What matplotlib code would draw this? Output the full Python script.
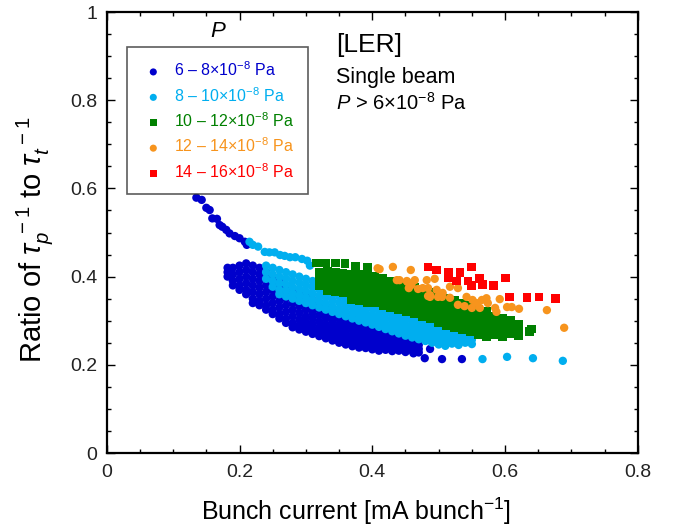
import matplotlib
matplotlib.use('Agg')
import matplotlib.pyplot as plt
from matplotlib.ticker import MultipleLocator

plt.rcParams['font.family'] = ['Liberation Sans', 'DejaVu Sans']
plt.rcParams['mathtext.fontset'] = 'custom'
plt.rcParams['mathtext.rm'] = 'Liberation Sans'
plt.rcParams['mathtext.it'] = 'Liberation Sans:italic'
plt.rcParams['mathtext.bf'] = 'Liberation Sans:bold'

# ---- data (bunch current, ratio) ----
# dense bands are kept as columns: (x, [y values])
p68_tail = [(0.135, 0.579), (0.143, 0.574), (0.150, 0.556), (0.155, 0.551), (0.159, 0.532),
            (0.166, 0.531), (0.170, 0.517), (0.174, 0.513), (0.180, 0.506), (0.185, 0.498),
            (0.193, 0.492), (0.200, 0.487), (0.208, 0.479), (0.211, 0.472),
            (0.479, 0.215), (0.487, 0.236), (0.505, 0.213), (0.535, 0.213), (0.462, 0.226)]
p68_cols = [
    (0.182, [0.42, 0.41, 0.40]),
    (0.19, [0.42, 0.405, 0.39, 0.38]),
    (0.20, [0.425, 0.41, 0.395, 0.38, 0.37]),
    (0.21, [0.43, 0.415, 0.40, 0.385, 0.37, 0.36]),
    (0.22, [0.425, 0.41, 0.395, 0.38, 0.365, 0.35, 0.34]),
    (0.23, [0.42, 0.405, 0.39, 0.375, 0.36, 0.345, 0.335]),
    (0.24, [0.41, 0.395, 0.38, 0.365, 0.35, 0.335, 0.325]),
    (0.25, [0.40, 0.385, 0.37, 0.355, 0.34, 0.325, 0.315]),
    (0.26, [0.39, 0.375, 0.36, 0.345, 0.33, 0.315, 0.305]),
    (0.27, [0.38, 0.365, 0.35, 0.335, 0.32, 0.305, 0.295]),
    (0.28, [0.37, 0.355, 0.34, 0.325, 0.31, 0.295, 0.285]),
    (0.29, [0.362, 0.348, 0.333, 0.318, 0.303, 0.29, 0.28]),
    (0.30, [0.355, 0.34, 0.325, 0.31, 0.297, 0.285, 0.275]),
    (0.31, [0.348, 0.333, 0.318, 0.305, 0.292, 0.28, 0.27]),
    (0.32, [0.34, 0.326, 0.312, 0.298, 0.285, 0.273, 0.265]),
    (0.33, [0.333, 0.32, 0.306, 0.292, 0.28, 0.268, 0.26]),
    (0.34, [0.326, 0.312, 0.299, 0.286, 0.274, 0.262, 0.255]),
    (0.35, [0.318, 0.305, 0.292, 0.28, 0.268, 0.257, 0.25]),
    (0.36, [0.31, 0.298, 0.286, 0.274, 0.262, 0.252, 0.246]),
    (0.37, [0.303, 0.291, 0.279, 0.267, 0.256, 0.247, 0.242]),
    (0.38, [0.296, 0.284, 0.272, 0.261, 0.25, 0.243, 0.239]),
    (0.39, [0.29, 0.278, 0.266, 0.255, 0.246, 0.238]),
    (0.40, [0.284, 0.272, 0.26, 0.25, 0.241, 0.235]),
    (0.41, [0.278, 0.266, 0.255, 0.245, 0.237, 0.232]),
    (0.42, [0.272, 0.26, 0.25, 0.241, 0.234]),
    (0.43, [0.266, 0.255, 0.245, 0.237, 0.231]),
    (0.44, [0.26, 0.25, 0.24, 0.232]),
    (0.45, [0.255, 0.245, 0.236, 0.229]),
    (0.46, [0.25, 0.24, 0.232]),
    (0.47, [0.245, 0.236, 0.228]),
]

p810_pts = [(0.215, 0.479), (0.22, 0.472), (0.228, 0.468), (0.238, 0.456), (0.245, 0.455),
            (0.253, 0.455), (0.261, 0.449), (0.268, 0.447), (0.276, 0.444), (0.284, 0.444),
            (0.294, 0.440), (0.302, 0.436), (0.306, 0.425),
            (0.566, 0.213), (0.603, 0.218), (0.642, 0.215), (0.687, 0.209)]
p810_cols = [
    (0.24, [0.425, 0.41, 0.395]),
    (0.25, [0.42, 0.405, 0.39, 0.377]),
    (0.26, [0.415, 0.40, 0.385, 0.37, 0.36]),
    (0.27, [0.41, 0.396, 0.382, 0.368, 0.355]),
    (0.28, [0.405, 0.39, 0.376, 0.362, 0.35]),
    (0.29, [0.40, 0.386, 0.372, 0.358, 0.345]),
    (0.30, [0.395, 0.381, 0.367, 0.353, 0.34]),
    (0.31, [0.39, 0.376, 0.362, 0.348, 0.335]),
    (0.32, [0.385, 0.371, 0.357, 0.343, 0.33]),
    (0.33, [0.38, 0.366, 0.352, 0.338, 0.325]),
    (0.34, [0.374, 0.36, 0.346, 0.332, 0.32]),
    (0.35, [0.368, 0.355, 0.341, 0.327, 0.315]),
    (0.36, [0.362, 0.349, 0.335, 0.322, 0.31]),
    (0.37, [0.356, 0.343, 0.33, 0.317, 0.305]),
    (0.38, [0.35, 0.337, 0.324, 0.312, 0.30]),
    (0.39, [0.345, 0.332, 0.319, 0.307, 0.296]),
    (0.40, [0.34, 0.327, 0.314, 0.302, 0.291]),
    (0.41, [0.335, 0.322, 0.309, 0.297, 0.286]),
    (0.42, [0.33, 0.317, 0.304, 0.292, 0.281]),
    (0.43, [0.325, 0.312, 0.30, 0.288, 0.276]),
    (0.44, [0.32, 0.307, 0.295, 0.283, 0.271]),
    (0.45, [0.315, 0.302, 0.29, 0.278, 0.266]),
    (0.46, [0.31, 0.298, 0.286, 0.274, 0.262]),
    (0.47, [0.305, 0.293, 0.281, 0.269, 0.258]),
    (0.48, [0.30, 0.288, 0.276, 0.264, 0.254]),
    (0.49, [0.295, 0.283, 0.271, 0.26, 0.25]),
    (0.50, [0.29, 0.278, 0.267, 0.256, 0.246]),
    (0.51, [0.285, 0.274, 0.263, 0.252, 0.243]),
    (0.52, [0.28, 0.27, 0.259, 0.248]),
    (0.53, [0.276, 0.265, 0.254, 0.245]),
    (0.54, [0.272, 0.261, 0.25]),
    (0.55, [0.268, 0.257, 0.247]),
]

p1012_pts = [(0.316, 0.431), (0.33, 0.431), (0.344, 0.431), (0.359, 0.429), (0.375, 0.424),
             (0.393, 0.42), (0.615, 0.288), (0.640, 0.281), (0.637, 0.275)]
p1012_cols = [
    (0.32, [0.41, 0.395, 0.38]),
    (0.332, [0.412, 0.397, 0.382, 0.368]),
    (0.344, [0.41, 0.395, 0.38, 0.365]),
    (0.356, [0.408, 0.393, 0.378, 0.363]),
    (0.368, [0.405, 0.39, 0.375, 0.36, 0.348]),
    (0.38, [0.405, 0.39, 0.375, 0.36, 0.345]),
    (0.392, [0.40, 0.385, 0.37, 0.355, 0.34]),
    (0.404, [0.40, 0.385, 0.37, 0.355, 0.34]),
    (0.416, [0.395, 0.38, 0.365, 0.35, 0.335]),
    (0.428, [0.39, 0.375, 0.36, 0.345, 0.33]),
    (0.44, [0.385, 0.37, 0.355, 0.34, 0.325]),
    (0.452, [0.38, 0.365, 0.35, 0.335, 0.32]),
    (0.464, [0.375, 0.36, 0.345, 0.33, 0.315]),
    (0.476, [0.37, 0.355, 0.34, 0.325, 0.31]),
    (0.488, [0.365, 0.35, 0.335, 0.32, 0.305]),
    (0.50, [0.355, 0.34, 0.325, 0.31, 0.295]),
    (0.512, [0.35, 0.335, 0.32, 0.305, 0.29]),
    (0.524, [0.345, 0.33, 0.315, 0.30, 0.285]),
    (0.536, [0.34, 0.325, 0.31, 0.295, 0.28]),
    (0.548, [0.335, 0.32, 0.305, 0.29, 0.275]),
    (0.56, [0.325, 0.31, 0.295, 0.28, 0.268]),
    (0.572, [0.32, 0.305, 0.29, 0.275, 0.265]),
    (0.584, [0.31, 0.295, 0.28, 0.268]),
    (0.596, [0.305, 0.29, 0.275, 0.265]),
    (0.608, [0.30, 0.285, 0.27]),
    (0.62, [0.292, 0.278, 0.266]),
]

p1214_pts = [(0.408, 0.419), (0.411, 0.417), (0.431, 0.422), (0.437, 0.392), (0.441, 0.392),
             (0.453, 0.388), (0.458, 0.415), (0.452, 0.39), (0.459, 0.381), (0.464, 0.392),
             (0.469, 0.372), (0.455, 0.374), (0.476, 0.374), (0.482, 0.392), (0.484, 0.374),
             (0.484, 0.356), (0.487, 0.354), (0.494, 0.395), (0.497, 0.37), (0.499, 0.354),
             (0.506, 0.363), (0.505, 0.354), (0.517, 0.377), (0.517, 0.352), (0.529, 0.374),
             (0.529, 0.336), (0.539, 0.333), (0.542, 0.354), (0.551, 0.347), (0.557, 0.340),
             (0.565, 0.347), (0.572, 0.351), (0.574, 0.34), (0.562, 0.329), (0.55, 0.329),
             (0.585, 0.329), (0.587, 0.32), (0.592, 0.349), (0.603, 0.331), (0.61, 0.331),
             (0.621, 0.327), (0.663, 0.324), (0.689, 0.284), (0.487, 0.358)]

p1416_pts = [(0.484, 0.422), (0.497, 0.415), (0.515, 0.41), (0.532, 0.41), (0.55, 0.422),
             (0.514, 0.397), (0.527, 0.39), (0.544, 0.39), (0.562, 0.395), (0.566, 0.383),
             (0.55, 0.379), (0.582, 0.379), (0.601, 0.397), (0.607, 0.354), (0.633, 0.352),
             (0.651, 0.354), (0.676, 0.351)]

labels = [r'6 – 8$\times$10$^{-8}$ Pa', r'8 – 10$\times$10$^{-8}$ Pa',
          r'10 – 12$\times$10$^{-8}$ Pa', r'12 – 14$\times$10$^{-8}$ Pa',
          r'14 – 16$\times$10$^{-8}$ Pa']
colors = ['#0000cc', '#00aeef', '#008000', '#f7941d', '#ff0000']
markers = ['o', 'o', 's', 'o', 's']


def expand(cols, pts):
    xs, ys = [], []
    for x, col in cols:
        for y in col:
            xs.append(x)
            ys.append(y)
    for x, y in pts:
        xs.append(x)
        ys.append(y)
    return xs, ys


series = [expand(p68_cols, p68_tail), expand(p810_cols, p810_pts),
          expand(p1012_cols, p1012_pts), expand([], p1214_pts), expand([], p1416_pts)]

fig = plt.figure(figsize=(6.8, 5.27), dpi=100)
ax = fig.add_axes([0.157, 0.1404, 0.781, 0.8368])

for (xs, ys), c, m, lab in zip(series, colors, markers, labels):
    ax.scatter(xs, ys, s=36 if m == 'o' else 40, marker=m, color=c, edgecolors='none', label=lab)

ax.set_xlim(0, 0.8)
ax.set_ylim(0, 1)
ax.set_xticks([0, 0.2, 0.4, 0.6, 0.8])
ax.set_xticklabels(['0', '0.2', '0.4', '0.6', '0.8'])
ax.set_yticks([0, 0.2, 0.4, 0.6, 0.8, 1.0])
ax.set_yticklabels(['0', '0.2', '0.4', '0.6', '0.8', '1'])
ax.xaxis.set_minor_locator(MultipleLocator(0.05))
ax.yaxis.set_minor_locator(MultipleLocator(0.05))
ax.tick_params(which='both', direction='in', top=True, right=True, labelsize=14,
               labelcolor='#222222')
ax.tick_params(which='major', length=6, width=1)
ax.tick_params(axis='x', which='major', pad=8)
ax.tick_params(axis='y', which='major', pad=7)
ax.tick_params(which='minor', length=3, width=1)
for sp in ax.spines.values():
    sp.set_linewidth(1.6)

ax.set_xlabel(r'Bunch current [mA bunch$^{-1}$]', fontsize=18)
ax.xaxis.set_label_coords(0.469, -0.097)
ax.set_ylabel(r'Ratio of $\tau_p^{\ -1}$ to $\tau_t^{\ -1}$', fontsize=21)
ax.yaxis.set_label_coords(-0.098, 0.483)

leg = ax.legend(loc='upper left', bbox_to_anchor=(0.038, 0.921), borderaxespad=0,
                fontsize=11.5, labelcolor=colors, frameon=True, fancybox=False,
                handlelength=1.6, handletextpad=0.5, labelspacing=0.42, borderpad=0.85,
                markerscale=0.85)
leg.get_frame().set_edgecolor('#333333')
leg.get_frame().set_linewidth(1.2)

ax.text(0.209, 0.955, 'P', transform=ax.transAxes, fontsize=16, style='italic',
        ha='center', va='center')
ax.text(0.431, 0.910, '[LER]', transform=ax.transAxes, fontsize=19, ha='left', va='baseline')
ax.text(0.431, 0.840, 'Single beam', transform=ax.transAxes, fontsize=15.5, ha='left',
        va='baseline')
ax.text(0.431, 0.778, r'$P$ > 6$\times$10$^{-8}$ Pa', transform=ax.transAxes, fontsize=14.5,
        ha='left', va='baseline')

fig.savefig('out.png', dpi=100)
